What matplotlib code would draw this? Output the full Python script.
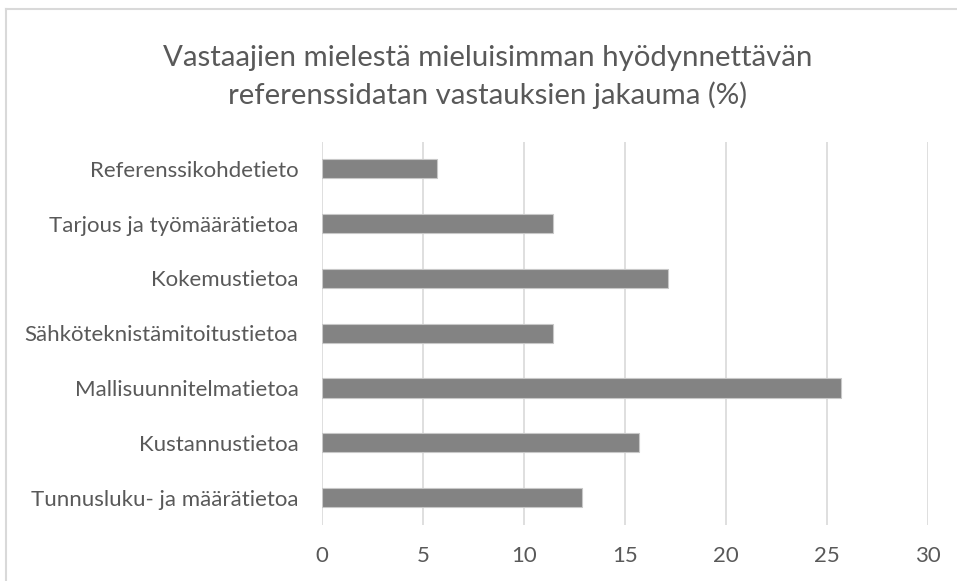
import matplotlib
matplotlib.use("Agg")
import matplotlib.pyplot as plt
from matplotlib.lines import Line2D

categories = [
    "Referenssikohdetieto",
    "Tarjous ja työmäärätietoa",
    "Kokemustietoa",
    "Sähköteknistämitoitustietoa",
    "Mallisuunnitelmatietoa",
    "Kustannustietoa",
    "Tunnusluku- ja määrätietoa",
]
values = [5.71, 11.43, 17.14, 11.43, 25.71, 15.71, 12.86]
xticks = [0, 5, 10, 15, 20, 25, 30]
title = "Vastaajien mielestä mieluisimman hyödynnettävän\nreferenssidatan vastauksien jakauma (%)"

W, H = 957, 581
fig = plt.figure(figsize=(W / 100, H / 100), dpi=100)
fig.patch.set_facecolor("white")

font = "Lato"
txt = "#595959"

ax = fig.add_axes([322 / W, 1 - 525 / H, (928 - 322) / W, (525 - 141.5) / H])
ypos = list(range(len(categories)))
ax.barh(ypos, values, height=0.35, color="#838383", edgecolor="#c8c8c8", linewidth=0.8, zorder=3)
ax.set_ylim(len(categories) - 0.5, -0.5)
ax.set_xlim(0, 30)
ax.set_xticks(xticks)
ax.set_xticklabels([str(t) for t in xticks], fontfamily=font, fontsize=16, color=txt)
ax.set_yticks(ypos)
ax.set_yticklabels(categories, fontfamily=font, fontsize=16, color=txt)
ax.tick_params(axis="both", length=0)
ax.tick_params(axis="y", pad=17)
ax.tick_params(axis="x", pad=15)
ax.grid(axis="x", color="#d9d9d9", linewidth=1.2, zorder=0)
for s in ax.spines.values():
    s.set_visible(False)

fig.text(488 / W, 1 - 77 / H, title, ha="center", va="center", fontfamily=font,
         fontweight="normal", fontsize=21.2, color=txt, linespacing=1.42)

# outer chart border (cropped: only top and left visible)
fig.add_artist(Line2D([6 / W, 6 / W], [0, 1 - 9 / H], transform=fig.transFigure, color="#d9d9d9", lw=1.5))
fig.add_artist(Line2D([6 / W, 1], [1 - 9 / H, 1 - 9 / H], transform=fig.transFigure, color="#d9d9d9", lw=1.5))

fig.savefig("out.png", dpi=100)
